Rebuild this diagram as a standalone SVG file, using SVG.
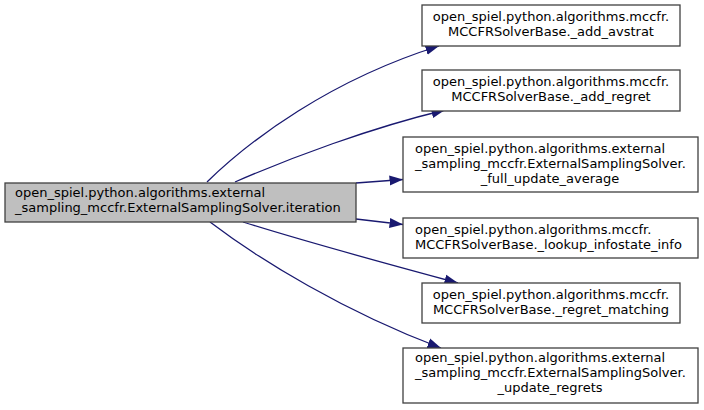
<svg xmlns="http://www.w3.org/2000/svg" width="704" height="410" viewBox="0 0 704 410">
<style>
rect{stroke:#404040;stroke-width:1.3}
.m{fill:#bfbfbf}
.n{fill:#ffffff}
text{font-family:"DejaVu Sans",sans-serif;font-size:13px;fill:#000}
.c{text-anchor:middle}
.e{fill:none;stroke:#191970;stroke-width:1.3}
</style>
<defs>
<marker id="arr" markerWidth="15" markerHeight="11" refX="13.5" refY="5.5" orient="auto" markerUnits="userSpaceOnUse">
<path d="M0,0.5 L13.5,5.5 L0,10.5 z" fill="#191970"/>
</marker>
</defs>
<rect width="704" height="410" fill="#fff" style="stroke:none"/>
<g id="edges">
<path class="e" marker-end="url(#arr)" d="M207,182 C250,140 330,80 439,46"/>
<path class="e" marker-end="url(#arr)" d="M235,182 C290,158 370,128 445,110"/>
<path class="e" marker-end="url(#arr)" d="M356,183 L403,179.5"/>
<path class="e" marker-end="url(#arr)" d="M356,219 L403,224.5"/>
<path class="e" marker-end="url(#arr)" d="M243,222 C300,240 380,262 458,283"/>
<path class="e" marker-end="url(#arr)" d="M210,222 C260,260 345,312 441,348"/>
</g>
<g id="main">
<rect class="m" x="5" y="183" width="351" height="39"/>
<text x="15" y="197">open_spiel.python.algorithms.external</text>
<text x="15" y="212">_sampling_mccfr.ExternalSamplingSolver.iteration</text>
</g>
<g id="n1">
<rect class="n" x="422" y="5" width="258" height="41"/>
<text class="c" x="551" y="21">open_spiel.python.algorithms.mccfr.</text>
<text class="c" x="551" y="36">MCCFRSolverBase._add_avstrat</text>
</g>
<g id="n2">
<rect class="n" x="422" y="70" width="258" height="41"/>
<text class="c" x="551" y="86">open_spiel.python.algorithms.mccfr.</text>
<text class="c" x="551" y="101">MCCFRSolverBase._add_regret</text>
</g>
<g id="n3">
<rect class="n" x="403" y="137" width="295" height="55"/>
<text x="415" y="153">open_spiel.python.algorithms.external</text>
<text x="415" y="168">_sampling_mccfr.ExternalSamplingSolver.</text>
<text class="c" x="550" y="183">_full_update_average</text>
</g>
<g id="n4">
<rect class="n" x="403" y="218" width="295" height="40"/>
<text x="415" y="234">open_spiel.python.algorithms.mccfr.</text>
<text x="415" y="249">MCCFRSolverBase._lookup_infostate_info</text>
</g>
<g id="n5">
<rect class="n" x="422" y="283" width="258" height="40"/>
<text class="c" x="551" y="299">open_spiel.python.algorithms.mccfr.</text>
<text class="c" x="551" y="314">MCCFRSolverBase._regret_matching</text>
</g>
<g id="n6">
<rect class="n" x="403" y="348" width="295" height="55"/>
<text x="415" y="362">open_spiel.python.algorithms.external</text>
<text x="415" y="377">_sampling_mccfr.ExternalSamplingSolver.</text>
<text class="c" x="550" y="392">_update_regrets</text>
</g>
</svg>
